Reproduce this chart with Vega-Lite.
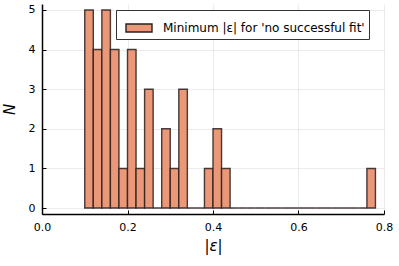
{
  "$schema": "https://vega.github.io/schema/vega-lite/v6.json",
  "width": 342,
  "height": 210,
  "autosize": {"type": "none"},
  "padding": {"left": 42, "top": 4, "right": 15, "bottom": 52},
  "background": "white",
  "config": {
    "view": {"stroke": null},
    "font": "DejaVu Sans",
    "axis": {
      "domainColor": "black",
      "domainWidth": 1.5,
      "gridColor": "#e6e6e6",
      "gridWidth": 0.8,
      "tickColor": "black",
      "labelFont": "DejaVu Sans",
      "labelFontSize": 11,
      "labelColor": "black",
      "labelFlush": false,
      "titleFont": "DejaVu Sans",
      "titleFontWeight": "normal",
      "titleColor": "black"
    }
  },
  "data": {
    "values": [
      {"lo": 0.10, "hi": 0.12, "n": 5, "s": "Minimum |ε| for 'no successful fit'"},
      {"lo": 0.12, "hi": 0.14, "n": 4, "s": "Minimum |ε| for 'no successful fit'"},
      {"lo": 0.14, "hi": 0.16, "n": 5, "s": "Minimum |ε| for 'no successful fit'"},
      {"lo": 0.16, "hi": 0.18, "n": 4, "s": "Minimum |ε| for 'no successful fit'"},
      {"lo": 0.18, "hi": 0.20, "n": 1, "s": "Minimum |ε| for 'no successful fit'"},
      {"lo": 0.20, "hi": 0.22, "n": 4, "s": "Minimum |ε| for 'no successful fit'"},
      {"lo": 0.22, "hi": 0.24, "n": 1, "s": "Minimum |ε| for 'no successful fit'"},
      {"lo": 0.24, "hi": 0.26, "n": 3, "s": "Minimum |ε| for 'no successful fit'"},
      {"lo": 0.26, "hi": 0.28, "n": 0, "s": "Minimum |ε| for 'no successful fit'"},
      {"lo": 0.28, "hi": 0.30, "n": 2, "s": "Minimum |ε| for 'no successful fit'"},
      {"lo": 0.30, "hi": 0.32, "n": 1, "s": "Minimum |ε| for 'no successful fit'"},
      {"lo": 0.32, "hi": 0.34, "n": 3, "s": "Minimum |ε| for 'no successful fit'"},
      {"lo": 0.34, "hi": 0.36, "n": 0, "s": "Minimum |ε| for 'no successful fit'"},
      {"lo": 0.36, "hi": 0.38, "n": 0, "s": "Minimum |ε| for 'no successful fit'"},
      {"lo": 0.38, "hi": 0.40, "n": 1, "s": "Minimum |ε| for 'no successful fit'"},
      {"lo": 0.40, "hi": 0.42, "n": 2, "s": "Minimum |ε| for 'no successful fit'"},
      {"lo": 0.42, "hi": 0.44, "n": 1, "s": "Minimum |ε| for 'no successful fit'"},
      {"lo": 0.44, "hi": 0.46, "n": 0, "s": "Minimum |ε| for 'no successful fit'"},
      {"lo": 0.46, "hi": 0.48, "n": 0, "s": "Minimum |ε| for 'no successful fit'"},
      {"lo": 0.48, "hi": 0.50, "n": 0, "s": "Minimum |ε| for 'no successful fit'"},
      {"lo": 0.50, "hi": 0.52, "n": 0, "s": "Minimum |ε| for 'no successful fit'"},
      {"lo": 0.52, "hi": 0.54, "n": 0, "s": "Minimum |ε| for 'no successful fit'"},
      {"lo": 0.54, "hi": 0.56, "n": 0, "s": "Minimum |ε| for 'no successful fit'"},
      {"lo": 0.56, "hi": 0.58, "n": 0, "s": "Minimum |ε| for 'no successful fit'"},
      {"lo": 0.58, "hi": 0.60, "n": 0, "s": "Minimum |ε| for 'no successful fit'"},
      {"lo": 0.60, "hi": 0.62, "n": 0, "s": "Minimum |ε| for 'no successful fit'"},
      {"lo": 0.62, "hi": 0.64, "n": 0, "s": "Minimum |ε| for 'no successful fit'"},
      {"lo": 0.64, "hi": 0.66, "n": 0, "s": "Minimum |ε| for 'no successful fit'"},
      {"lo": 0.66, "hi": 0.68, "n": 0, "s": "Minimum |ε| for 'no successful fit'"},
      {"lo": 0.68, "hi": 0.70, "n": 0, "s": "Minimum |ε| for 'no successful fit'"},
      {"lo": 0.70, "hi": 0.72, "n": 0, "s": "Minimum |ε| for 'no successful fit'"},
      {"lo": 0.72, "hi": 0.74, "n": 0, "s": "Minimum |ε| for 'no successful fit'"},
      {"lo": 0.74, "hi": 0.76, "n": 0, "s": "Minimum |ε| for 'no successful fit'"},
      {"lo": 0.76, "hi": 0.78, "n": 1, "s": "Minimum |ε| for 'no successful fit'"}
    ]
  },
  "mark": {"type": "bar", "stroke": "#2a1f1c", "strokeWidth": 1.4, "strokeOpacity": 0.85, "opacity": 1},
  "encoding": {
    "x": {
      "field": "lo", "type": "quantitative",
      "scale": {"domain": [0, 0.8], "nice": false, "zero": false},
      "axis": {"values": [0, 0.2, 0.4, 0.6, 0.8], "format": ".1f", "title": "|ε|", "titleFontSize": 15, "titleFontStyle": "italic", "titlePadding": 6, "tickSize": -4, "labelPadding": 11}
    },
    "x2": {"field": "hi"},
    "y": {
      "field": "n", "type": "quantitative",
      "scale": {"domain": [-0.15, 5.15], "nice": false, "zero": false},
      "axis": {"values": [0, 1, 2, 3, 4, 5], "format": "d", "title": "N", "titleFontSize": 15, "titleFontStyle": "italic", "titlePadding": 11, "tickSize": -4, "labelPadding": 11}
    },
    "y2": {"datum": 0},
    "color": {
      "field": "s", "type": "nominal",
      "scale": {"range": ["#eb9879"]},
      "legend": {
        "title": null,
        "orient": "none",
        "legendX": 74,
        "legendY": 6,
        "padding": 4,
        "strokeColor": "#333333",
        "fillColor": "white",
        "symbolType": "M-1,-0.308H1V0.308H-1Z",
        "symbolSize": 676,
        "symbolOffset": 5,
        "symbolStrokeColor": "#2a1f1c",
        "symbolStrokeWidth": 1.4,
        "symbolOpacity": 1,
        "labelOffset": 10,
        "labelFontSize": 12,
        "labelFont": "DejaVu Sans",
        "labelColor": "black",
        "labelLimit": 400
      }
    }
  }
}
